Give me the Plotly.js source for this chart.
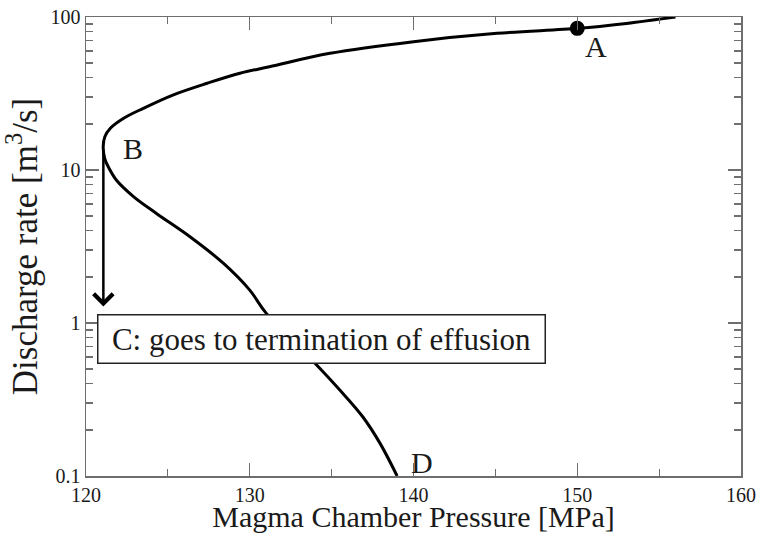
<!DOCTYPE html>
<html>
<head>
<meta charset="utf-8">
<script src="https://cdn.plot.ly/plotly-3.0.1.min.js"></script>
<style>
html,body{margin:0;padding:0;background:#fff;}
#chart{width:760px;height:533px;}
</style>
</head>
<body>
<div id="chart"></div>
<script>
// Curve: magma chamber pressure [MPa] vs discharge rate [m3/s]
const pressure = [156.0, 153.0, 150.1, 145.1, 140.0, 134.9, 131.2, 129.4, 127.4, 125.3, 123.5, 122.3, 121.5, 121.15, 121.05, 121.15, 121.4, 121.85, 122.9, 124.3, 126.35, 128.4, 130.0, 131.0, 134.1, 135.5, 136.9, 137.95, 139.0];
const rate = [100, 90.8, 84.3, 78.2, 69.0, 57.9, 47.3, 42.9, 36.9, 30.9, 25.3, 21.8, 18.8, 16.5, 14.2, 11.8, 10.3, 8.6, 6.7, 5.2, 3.66, 2.45, 1.64, 1.16, 0.53, 0.365, 0.244, 0.164, 0.1];
// Point A
const pointAx = [150];
const pointAy = [84.3];
// Arrow B -> C
const arrowFrom = {x: 121.06, y: 13.5};
const arrowTo = {x: 121.06, y: 1.28};
const boxText = "C: goes to termination of effusion";
const boxPos = {x: 134.41, y: 0.792};
const labels = [
  {text: "A", x: 151.15, y: 64.6},
  {text: "B", x: 122.84, y: 13.9},
  {text: "D", x: 140.52, y: 0.1225}
];

const serif = "Liberation Serif, Times New Roman, serif";
const ink = "#1a1a1a";
const axisCol = "#6e6e6e";

const traces = [
  {x: pressure, y: rate, mode: "lines", type: "scatter",
   line: {color: "#000", width: 3, shape: "spline", smoothing: 1}, hoverinfo: "skip"},
  {x: pointAx, y: pointAy, mode: "markers", type: "scatter",
   marker: {color: "#000", size: 15}, hoverinfo: "skip"}
];

const annotations = labels.map(l => ({
  text: l.text, x: l.x, y: Math.log10(l.y), xref: "x", yref: "y",
  showarrow: false, font: {family: serif, size: 30, color: ink}
}));
annotations.push({
  x: arrowTo.x, y: Math.log10(arrowTo.y), ax: arrowFrom.x, ay: Math.log10(arrowFrom.y),
  xref: "x", yref: "y", axref: "x", ayref: "y",
  showarrow: true, arrowhead: 4, arrowsize: 1.5, arrowwidth: 2.5, arrowcolor: "#000", text: ""
});
annotations.push({
  text: boxText, x: boxPos.x, y: Math.log10(boxPos.y), xref: "x", yref: "y",
  showarrow: false, font: {family: serif, size: 31, color: ink},
  width: 436, height: 37, align: "center",
  bordercolor: "#222", borderwidth: 1.5, borderpad: 5, bgcolor: "#fff"
});

const layout = {
  width: 760, height: 533,
  margin: {l: 86, r: 19, t: 17, b: 57},
  paper_bgcolor: "#fff", plot_bgcolor: "#fff",
  showlegend: false,
  font: {family: serif, color: ink},
  xaxis: {
    range: [120, 160], dtick: 10, tick0: 120,
    ticks: "inside", ticklen: 13, tickcolor: axisCol, tickwidth: 1.2,
    showline: true, linecolor: axisCol, linewidth: 1.5, mirror: "ticks",
    showgrid: false, zeroline: false, automargin: false,
    tickfont: {family: serif, size: 20, color: ink},
    minor: {ticks: "inside", dtick: 5, ticklen: 7, tickcolor: axisCol, tickwidth: 1.2, showgrid: false},
    title: {text: "Magma Chamber Pressure [MPa]", font: {family: serif, size: 30, color: ink}, standoff: 0}
  },
  yaxis: {
    type: "log", range: [-1, 2], dtick: 1,
    ticks: "inside", ticklen: 13, tickcolor: axisCol, tickwidth: 1.2,
    showline: true, linecolor: axisCol, linewidth: 1.5, mirror: "ticks",
    showgrid: false, zeroline: false, automargin: false,
    tickfont: {family: serif, size: 20, color: ink},
    minor: {ticks: "inside", dtick: "D1", ticklen: 7, tickcolor: axisCol, tickwidth: 1.2, showgrid: false},
    title: {text: "Discharge rate [m<sup>3</sup>/s]", font: {family: serif, size: 35, color: ink}, standoff: 7}
  },
  annotations: annotations
};

Plotly.newPlot("chart", traces, layout, {staticPlot: true, displayModeBar: false});
</script>
</body>
</html>
